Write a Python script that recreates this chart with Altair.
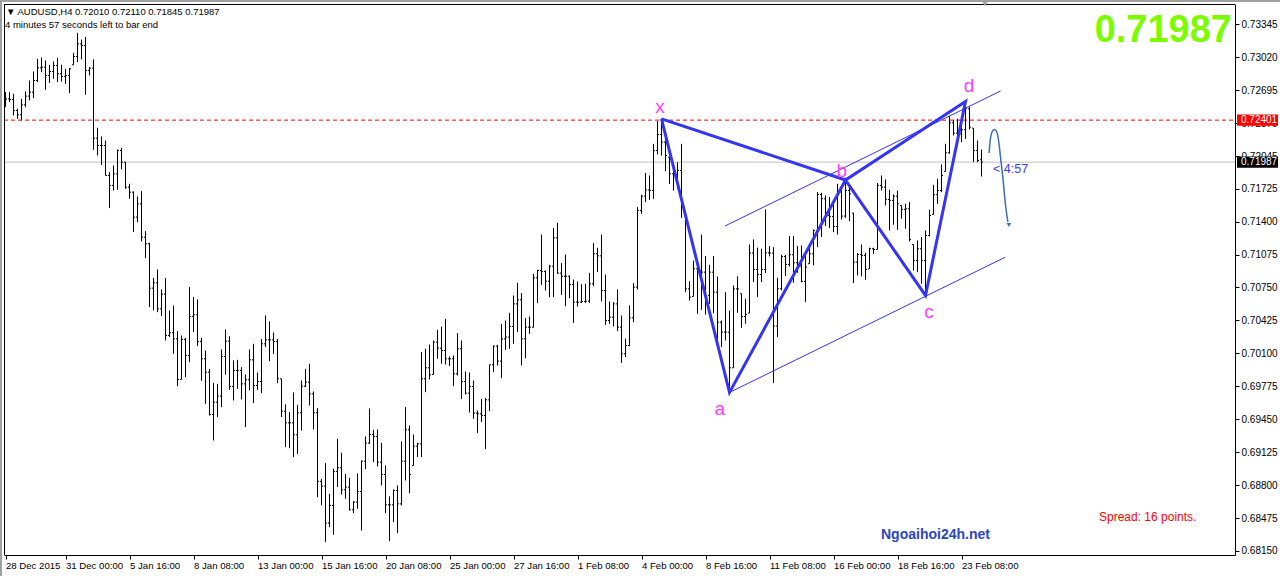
import altair as alt
import pandas as pd

# ---- AUDUSD H4 bars (oldest first) ----
open_ = [
    0.72650, 0.72611, 0.72605, 0.72496, 0.72454, 0.72552, 0.72638, 0.72677, 0.72792, 0.72917,
    0.72924, 0.72842, 0.72881, 0.72940, 0.72858, 0.72832, 0.72842, 0.72947, 0.73029, 0.73154,
    0.73138, 0.72891, 0.72914, 0.72223, 0.72151, 0.72151, 0.71855, 0.71756, 0.71871, 0.72102,
    0.71987, 0.71740, 0.71690, 0.71444, 0.71575, 0.71246, 0.71181, 0.70743, 0.70796, 0.70539,
    0.70684, 0.70276, 0.70303, 0.70243, 0.69842, 0.70237, 0.70079, 0.70464, 0.70480, 0.70217,
    0.70046, 0.69914, 0.69497, 0.69618, 0.69678, 0.70069, 0.70220, 0.69773, 0.69931, 0.69931,
    0.69799, 0.69839, 0.70036, 0.69783, 0.69822, 0.70194, 0.70233, 0.70233, 0.70217, 0.69849,
    0.69529, 0.69414, 0.69414, 0.69296, 0.69513, 0.69776, 0.69816, 0.69700, 0.69513, 0.68836,
    0.68790, 0.68425, 0.68599, 0.68935, 0.68971, 0.68754, 0.68780, 0.68556, 0.68632, 0.68737,
    0.69036, 0.69214, 0.69299, 0.69280, 0.69026, 0.68904, 0.68605, 0.68605, 0.68747, 0.68615,
    0.69036, 0.69345, 0.68993, 0.69184, 0.69207, 0.69849, 0.69957, 0.69891, 0.70210, 0.70151,
    0.70128, 0.70046, 0.70046, 0.69898, 0.70145, 0.69822, 0.69707, 0.69773, 0.69510, 0.69503,
    0.69487, 0.69641, 0.69987, 0.70171, 0.70023, 0.70243, 0.70260, 0.70365, 0.70588, 0.70628,
    0.70243, 0.70358, 0.70358, 0.70845, 0.70917, 0.70907, 0.70812, 0.70960, 0.71240, 0.70891,
    0.70861, 0.70861, 0.70779, 0.70605, 0.70605, 0.70611, 0.70615, 0.70786, 0.71082, 0.71062,
    0.70720, 0.70424, 0.70457, 0.70588, 0.70358, 0.70095, 0.70177, 0.70450, 0.70753, 0.71509,
    0.71651, 0.71713, 0.71707, 0.72101, 0.72259, 0.72184, 0.72036, 0.71871, 0.71865, 0.71904,
    0.71476, 0.70736, 0.70661, 0.70934, 0.70917, 0.70901, 0.70671, 0.70901, 0.70703, 0.70407,
    0.70309, 0.70309, 0.69957, 0.70736, 0.70688, 0.70464, 0.70497, 0.71089, 0.70928, 0.70878,
    0.70928, 0.71092, 0.71089, 0.70369, 0.70737, 0.71056, 0.70977, 0.71073, 0.70994, 0.70961,
    0.70810, 0.70984, 0.71082, 0.71313, 0.71668, 0.71625, 0.71461, 0.71451, 0.71352, 0.71691,
    0.71454, 0.71707, 0.71484, 0.71000, 0.71076, 0.71066, 0.70934, 0.71132, 0.71125, 0.71757,
    0.71740, 0.71619, 0.71609, 0.71651, 0.71559, 0.71520, 0.71526, 0.71174, 0.71017, 0.71132,
    0.71017, 0.71263, 0.71471, 0.71665, 0.71707, 0.71895, 0.72079, 0.72375, 0.72273, 0.72266,
    0.72306, 0.72513, 0.72322, 0.72102, 0.72010,
]
high = [
    0.72677, 0.72677, 0.72661, 0.72513, 0.72611, 0.72684, 0.72792, 0.72881, 0.73006, 0.73019,
    0.72990, 0.72947, 0.72980, 0.73016, 0.72947, 0.72907, 0.72914, 0.73065, 0.73263, 0.73197,
    0.73220, 0.72924, 0.73000, 0.72325, 0.72240, 0.72200, 0.71888, 0.71954, 0.72111, 0.72128,
    0.71987, 0.71773, 0.71697, 0.71648, 0.71700, 0.71306, 0.71191, 0.70845, 0.70927, 0.70730,
    0.70842, 0.70523, 0.70572, 0.70319, 0.70276, 0.70253, 0.70753, 0.70655, 0.70631, 0.70253,
    0.70128, 0.69947, 0.69809, 0.69799, 0.70138, 0.70335, 0.70270, 0.70030, 0.70036, 0.69964,
    0.69891, 0.70138, 0.70194, 0.69911, 0.70243, 0.70474, 0.70414, 0.70306, 0.70243, 0.69849,
    0.69596, 0.69520, 0.69714, 0.69592, 0.69832, 0.69947, 0.69997, 0.69724, 0.69559, 0.68862,
    0.69016, 0.68714, 0.68961, 0.69257, 0.69119, 0.68911, 0.68872, 0.68642, 0.68914, 0.69043,
    0.69280, 0.69556, 0.69345, 0.69349, 0.69217, 0.68993, 0.68688, 0.68756, 0.68796, 0.69230,
    0.69569, 0.69388, 0.69299, 0.69217, 0.70112, 0.70145, 0.70187, 0.70227, 0.70332, 0.70365,
    0.70440, 0.70069, 0.70079, 0.70299, 0.70227, 0.69921, 0.69911, 0.69832, 0.69536, 0.69651,
    0.69658, 0.69987, 0.70177, 0.70184, 0.70391, 0.70424, 0.70500, 0.70671, 0.70796, 0.70694,
    0.70447, 0.70463, 0.70884, 0.70924, 0.71272, 0.70917, 0.70973, 0.71338, 0.71388, 0.70990,
    0.71075, 0.70868, 0.70828, 0.70809, 0.70782, 0.70786, 0.70894, 0.71187, 0.71141, 0.71272,
    0.70878, 0.70611, 0.70605, 0.70730, 0.70473, 0.70243, 0.70572, 0.70792, 0.71542, 0.71664,
    0.71881, 0.71855, 0.72167, 0.72391, 0.72414, 0.72249, 0.72036, 0.71904, 0.71986, 0.72167,
    0.71476, 0.70812, 0.71016, 0.70967, 0.71272, 0.71059, 0.70973, 0.71059, 0.70858, 0.70424,
    0.70703, 0.70523, 0.70769, 0.70860, 0.70688, 0.70638, 0.71174, 0.71224, 0.71142, 0.71132,
    0.71520, 0.71158, 0.71148, 0.70846, 0.71073, 0.71073, 0.71257, 0.71257, 0.71158, 0.71165,
    0.71076, 0.71148, 0.71322, 0.71691, 0.71684, 0.71658, 0.71642, 0.71609, 0.71773, 0.71750,
    0.71810, 0.71740, 0.71484, 0.71092, 0.71174, 0.71092, 0.71142, 0.71142, 0.71780, 0.71855,
    0.71816, 0.71714, 0.71668, 0.71707, 0.71559, 0.71576, 0.71592, 0.71174, 0.71214, 0.71247,
    0.71313, 0.71517, 0.71763, 0.71822, 0.71964, 0.72168, 0.72441, 0.72405, 0.72414, 0.72398,
    0.72585, 0.72536, 0.72322, 0.72201, 0.72110,
]
low = [
    0.72529, 0.72579, 0.72447, 0.72414, 0.72398, 0.72529, 0.72595, 0.72618, 0.72776, 0.72875,
    0.72700, 0.72769, 0.72809, 0.72776, 0.72782, 0.72759, 0.72667, 0.72947, 0.72973, 0.73000,
    0.72651, 0.72842, 0.72108, 0.72052, 0.71960, 0.71855, 0.71533, 0.71707, 0.71714, 0.71914,
    0.71723, 0.71625, 0.71296, 0.71394, 0.71204, 0.71039, 0.70556, 0.70523, 0.70506, 0.70467,
    0.70227, 0.70260, 0.70095, 0.69776, 0.69842, 0.69865, 0.70013, 0.70309, 0.70171, 0.69829,
    0.69602, 0.69487, 0.69240, 0.69470, 0.69569, 0.69891, 0.69740, 0.69635, 0.69750, 0.69645,
    0.69372, 0.69734, 0.69609, 0.69740, 0.69707, 0.70161, 0.70023, 0.70095, 0.69806, 0.69470,
    0.69174, 0.69164, 0.69076, 0.69105, 0.69339, 0.69766, 0.69585, 0.69349, 0.68681, 0.68599,
    0.68237, 0.68385, 0.68310, 0.68780, 0.68707, 0.68665, 0.68550, 0.68523, 0.68566, 0.68352,
    0.68957, 0.69207, 0.69026, 0.68984, 0.68796, 0.68523, 0.68247, 0.68434, 0.68326, 0.68599,
    0.68846, 0.68720, 0.68993, 0.69076, 0.69076, 0.69717, 0.69842, 0.69891, 0.70046, 0.69997,
    0.69990, 0.69974, 0.69776, 0.69882, 0.69648, 0.69694, 0.69516, 0.69454, 0.69313, 0.69421,
    0.69155, 0.69529, 0.69914, 0.69980, 0.69855, 0.70134, 0.70144, 0.70194, 0.70309, 0.69980,
    0.70052, 0.70292, 0.70355, 0.70595, 0.70776, 0.70720, 0.70654, 0.70654, 0.70884, 0.70677,
    0.70565, 0.70644, 0.70401, 0.70562, 0.70598, 0.70598, 0.70598, 0.70763, 0.70901, 0.70611,
    0.70381, 0.70391, 0.70365, 0.70319, 0.70006, 0.70062, 0.70171, 0.70407, 0.70730, 0.71476,
    0.71592, 0.71615, 0.71624, 0.72062, 0.72052, 0.71897, 0.71772, 0.71707, 0.71723, 0.71437,
    0.70703, 0.70621, 0.70661, 0.70490, 0.70529, 0.70483, 0.70588, 0.70496, 0.70161, 0.70161,
    0.70227, 0.69714, 0.69957, 0.70500, 0.70352, 0.70392, 0.70497, 0.70803, 0.70655, 0.70803,
    0.70892, 0.71056, 0.69806, 0.70260, 0.70721, 0.70862, 0.70957, 0.70796, 0.70895, 0.70803,
    0.70605, 0.70984, 0.70967, 0.71148, 0.71247, 0.71355, 0.71336, 0.71296, 0.71273, 0.71421,
    0.71438, 0.71405, 0.70793, 0.70869, 0.70859, 0.70826, 0.70934, 0.71082, 0.71125, 0.71707,
    0.71559, 0.71313, 0.71369, 0.71319, 0.71428, 0.71329, 0.71204, 0.70918, 0.70901, 0.70786,
    0.70671, 0.71253, 0.71471, 0.71576, 0.71691, 0.71895, 0.72069, 0.72250, 0.72151, 0.72184,
    0.72217, 0.72309, 0.71987, 0.71987, 0.71845,
]
close = [
    0.72611, 0.72605, 0.72496, 0.72454, 0.72552, 0.72638, 0.72677, 0.72792, 0.72917, 0.72924,
    0.72842, 0.72881, 0.72940, 0.72858, 0.72832, 0.72842, 0.72907, 0.73029, 0.73154, 0.73138,
    0.72891, 0.72914, 0.72223, 0.72151, 0.72151, 0.71855, 0.71756, 0.71871, 0.72102, 0.71987,
    0.71740, 0.71690, 0.71444, 0.71575, 0.71246, 0.71181, 0.70743, 0.70796, 0.70539, 0.70684,
    0.70276, 0.70303, 0.70243, 0.69842, 0.70237, 0.70079, 0.70464, 0.70480, 0.70217, 0.70046,
    0.69914, 0.69497, 0.69618, 0.69678, 0.70069, 0.70220, 0.69773, 0.69931, 0.69931, 0.69799,
    0.69839, 0.70036, 0.69783, 0.69822, 0.70194, 0.70233, 0.70233, 0.70217, 0.69849, 0.69529,
    0.69414, 0.69414, 0.69296, 0.69513, 0.69776, 0.69816, 0.69700, 0.69513, 0.68836, 0.68790,
    0.68425, 0.68599, 0.68935, 0.68971, 0.68754, 0.68780, 0.68556, 0.68632, 0.68737, 0.69036,
    0.69214, 0.69299, 0.69280, 0.69026, 0.68904, 0.68605, 0.68605, 0.68747, 0.68615, 0.69036,
    0.69345, 0.68904, 0.69184, 0.69207, 0.69849, 0.69957, 0.69888, 0.70210, 0.70151, 0.70128,
    0.70046, 0.70046, 0.69898, 0.70145, 0.69822, 0.69707, 0.69773, 0.69510, 0.69503, 0.69487,
    0.69641, 0.69987, 0.70171, 0.70023, 0.70243, 0.70260, 0.70365, 0.70588, 0.70628, 0.70243,
    0.70358, 0.70358, 0.70845, 0.70917, 0.70907, 0.70812, 0.70960, 0.71240, 0.70891, 0.70861,
    0.70861, 0.70779, 0.70605, 0.70605, 0.70611, 0.70615, 0.70786, 0.71082, 0.71062, 0.70720,
    0.70424, 0.70457, 0.70588, 0.70358, 0.70095, 0.70177, 0.70450, 0.70753, 0.71509, 0.71651,
    0.71713, 0.71707, 0.72101, 0.72259, 0.72184, 0.72052, 0.71871, 0.71865, 0.71904, 0.71575,
    0.70736, 0.70654, 0.70934, 0.70917, 0.70901, 0.70671, 0.70901, 0.70703, 0.70407, 0.70309,
    0.70309, 0.69957, 0.70736, 0.70736, 0.70464, 0.70484, 0.71089, 0.70928, 0.70878, 0.70928,
    0.71092, 0.71089, 0.70369, 0.70737, 0.71056, 0.70977, 0.71073, 0.70994, 0.70961, 0.70810,
    0.70951, 0.71082, 0.71313, 0.71668, 0.71625, 0.71461, 0.71451, 0.71352, 0.71691, 0.71454,
    0.71707, 0.71674, 0.71000, 0.71076, 0.71066, 0.70928, 0.71132, 0.71125, 0.71757, 0.71740,
    0.71619, 0.71609, 0.71651, 0.71576, 0.71520, 0.71526, 0.71224, 0.71017, 0.71132, 0.71017,
    0.71263, 0.71461, 0.71665, 0.71707, 0.71855, 0.72079, 0.72375, 0.72273, 0.72266, 0.72306,
    0.72513, 0.72332, 0.72102, 0.72003, 0.71987,
]

# time axis labels (bar index -> broker time)
time_tick_bars = [0, 15, 31, 47, 63, 79, 95, 111, 127, 143, 159, 175, 191, 207, 223, 239]
time_tick_labels = [
    "28 Dec 2015", "31 Dec 00:00", "5 Jan 16:00", "8 Jan 08:00", "13 Jan 00:00",
    "15 Jan 16:00", "20 Jan 08:00", "25 Jan 00:00", "27 Jan 16:00", "1 Feb 08:00",
    "4 Feb 00:00", "8 Feb 16:00", "11 Feb 08:00", "16 Feb 00:00", "18 Feb 16:00",
    "23 Feb 08:00",
]
price_ticks = [
    0.73345, 0.73020, 0.72695, 0.72370, 0.72045, 0.71725, 0.71400, 0.71075, 0.70750,
    0.70425, 0.70100, 0.69775, 0.69450, 0.69125, 0.68800, 0.68475, 0.68150,
]

# XABCD pattern pivots
pivot_names = ["x", "a", "b", "c", "d"]
pivot_bars = [164, 181, 210, 230, 240]
pivot_prices = [0.72414, 0.69714, 0.71810, 0.70671, 0.72585]
pivot_label_bars = [163.6, 178.6, 209.1, 230.9, 240.9]
pivot_label_prices = [0.72531, 0.69551, 0.71899, 0.70508, 0.72738]
# drawing order X-a-b-c-d-b-X gives both triangles in one stroke
path_order = ["x", "a", "b", "c", "d", "b", "x"]

# channel lines
channel_group = ["upper", "upper", "lower", "lower"]
channel_bars = [179.9, 248.8, 181.0, 249.9]
channel_prices = [0.71357, 0.72689, 0.69714, 0.71048]

# projected move arrow
arrow_bars = [245.9, 246.25, 246.75, 247.25, 247.75, 248.25, 248.75, 249.4, 250.0, 250.6]
arrow_prices = [0.72077, 0.72225, 0.72294, 0.72309, 0.72289, 0.72205, 0.72038, 0.71811, 0.71564, 0.71396]
arrow_head = (250.85, 0.71366)

bid_price = 0.71987
level_price = 0.72401

W, H = 1231, 551
FONT = "Liberation Sans"
BLUE = "#3434f4"

xs = alt.Scale(domain=[-0.375, -0.375 + W / 4], nice=False, zero=False)
ys = alt.Scale(domain=[0.68110, 0.73547], nice=False, zero=False)

label_expr = "".join(
    f"datum.value == {b} ? '{t}' : " for b, t in zip(time_tick_bars, time_tick_labels)
) + "''"

x_axis = alt.Axis(
    values=time_tick_bars, labelExpr=label_expr, orient="bottom", title=None,
    labelAlign="left", labelBaseline="top", tickSize=4, labelPadding=1,
    labelOverlap=False, labelFlush=False, labelBound=False, grid=False,
    labelFont=FONT, labelFontSize=9.6, labelColor="black",
    tickColor="black", domainColor="black",
)
y_axis = alt.Axis(
    values=price_ticks, format=".5f", orient="right", title=None,
    tickSize=4, labelPadding=2, labelOverlap=False, labelFlush=False,
    labelBound=False, grid=False, labelFont=FONT, labelFontSize=10,
    labelColor="black", tickColor="black", domainColor="black",
)

bars = pd.DataFrame({"i": list(range(len(close))), "o": open_, "h": high, "l": low, "c": close})

# every positional layer carries the same scale and axis so the axes merge into one
def X(field):
    return alt.X(field, scale=xs, axis=x_axis)

def Y(field):
    return alt.Y(field, scale=ys, axis=y_axis)

# horizontal reference levels
bid_line = alt.Chart(pd.DataFrame({"p": [bid_price]})).mark_rule(
    color="#c0c0c0", strokeWidth=1).encode(y=Y("p:Q"), x=alt.value(0), x2=alt.value(W))
level_line = alt.Chart(pd.DataFrame({"p": [level_price]})).mark_rule(
    color="#ff0000", strokeWidth=1, strokeDash=[4, 3]).encode(
    y=Y("p:Q"), x=alt.value(0), x2=alt.value(W))

# OHLC bars
hl = alt.Chart(bars).mark_rule(color="black", strokeWidth=1).encode(
    x=X("i:Q"), y=Y("l:Q"), y2="h:Q")
open_tick = alt.Chart(bars).transform_calculate(i0="datum.i - 0.375").mark_rule(
    color="black", strokeWidth=1).encode(x=X("i0:Q"), x2="i:Q", y=Y("o:Q"))
close_tick = alt.Chart(bars).transform_calculate(i1="datum.i + 0.375").mark_rule(
    color="black", strokeWidth=1).encode(x=X("i:Q"), x2="i1:Q", y=Y("c:Q"))

# pattern
piv = dict(zip(pivot_names, zip(pivot_bars, pivot_prices)))
path_df = pd.DataFrame({
    "n": list(range(len(path_order))),
    "i": [piv[k][0] for k in path_order],
    "p": [piv[k][1] for k in path_order],
})
pattern = alt.Chart(path_df).mark_line(color=BLUE, strokeWidth=3, strokeJoin="miter").encode(
    x=X("i:Q"), y=Y("p:Q"), order="n:Q")

chan_df = pd.DataFrame({"g": channel_group, "i": channel_bars, "p": channel_prices})
channel = alt.Chart(chan_df).mark_line(color=BLUE, strokeWidth=1).encode(
    x=X("i:Q"), y=Y("p:Q"), detail="g:N")

plabels = pd.DataFrame({"t": pivot_names, "i": pivot_label_bars, "p": pivot_label_prices})
pattern_text = alt.Chart(plabels).mark_text(
    color="#ff3cff", font=FONT, fontSize=19, align="center", baseline="middle").encode(
    x=X("i:Q"), y=Y("p:Q"), text="t:N")

arrow_df = pd.DataFrame({"n": list(range(len(arrow_bars))), "i": arrow_bars, "p": arrow_prices})
arrow = alt.Chart(arrow_df).mark_line(color="#3b6fb6", strokeWidth=1.5, interpolate="monotone").encode(
    x=X("i:Q"), y=Y("p:Q"), order="n:Q")
head = alt.Chart(pd.DataFrame({"i": [arrow_head[0]], "p": [arrow_head[1]]})).mark_point(
    shape="triangle-down", filled=True, color="#3b6fb6", size=22, opacity=1).encode(
    x=X("i:Q"), y=Y("p:Q"))

timer = alt.Chart(pd.DataFrame({"t": ["< 4:57"], "i": [246.9], "p": [0.71919]})).mark_text(
    color="#3c3cff", font=FONT, fontSize=12.5, align="left", baseline="middle").encode(
    x=X("i:Q"), y=Y("p:Q"), text="t:N")

# price boxes on the scale
HALF = 5.7 / 10134
box_df = pd.DataFrame({
    "p": [level_price, bid_price],
    "t": [f"{level_price:.5f}", f"{bid_price:.5f}"],
    "bg": ["#ff0000", "#000000"],
})
boxes = alt.Chart(box_df).transform_calculate(
    top=f"datum.p + {HALF}", bot=f"datum.p - {HALF}").mark_rect().encode(
    x=alt.value(W + 2), x2=alt.value(W + 43),
    y=Y("top:Q"), y2="bot:Q",
    color=alt.Color("bg:N", scale=None))
box_text = alt.Chart(box_df).mark_text(
    color="white", font=FONT, fontSize=10, align="left", baseline="middle").encode(
    x=alt.value(W + 6), y=Y("p:Q"), text="t:N")

def pix_text(txt, px, py, **kw):
    return alt.Chart(pd.DataFrame({"t": [txt]})).mark_text(**kw).encode(
        x=alt.value(px - 4), y=alt.value(py - 4), text="t:N")

header = pix_text("\u25BC AUDUSD,H4  0.72010 0.72110 0.71845 0.71987", 6, 12,
                  font=FONT, fontSize=9.5, color="black", align="left", baseline="middle")
header2 = pix_text("4 minutes 57 seconds left to bar end", 5, 25,
                   font=FONT, fontSize=9.5, color="black", align="left", baseline="middle")
big_price = pix_text("0.71987", 1232, 42, font=FONT, fontSize=38,
                     fontWeight="bold", color="#7cfc00", align="right", baseline="alphabetic")
spread = pix_text("Spread: 16 points.", 1099, 517, font=FONT, fontSize=12,
                  color="#ff0000", align="left", baseline="middle")
site = pix_text("Ngoaihoi24h.net", 881, 535, font=FONT, fontSize=14, fontWeight="bold",
                color="#2a45c2", align="left", baseline="middle")

# chart frame (top, left) and window edge
frame = pd.DataFrame({"k": [0]})
top_edge = alt.Chart(frame).mark_rule(color="black", strokeWidth=1).encode(
    x=alt.value(0), x2=alt.value(W), y=alt.value(0.5))
left_edge = alt.Chart(frame).mark_rule(color="black", strokeWidth=1).encode(
    x=alt.value(0.5), y=alt.value(0), y2=alt.value(H))
win_top = alt.Chart(frame).mark_rule(color="#a0a0a0", strokeWidth=2).encode(
    x=alt.value(-4), x2=alt.value(W + 45), y=alt.value(-3))
win_left = alt.Chart(frame).mark_rule(color="#a0a0a0", strokeWidth=2).encode(
    x=alt.value(-3), y=alt.value(-4), y2=alt.value(H + 21))
shift_mark = alt.Chart(frame).mark_point(
    shape="triangle-down", filled=True, color="#a0a0a0", size=45, opacity=1).encode(
    x=alt.value(981), y=alt.value(-0.5))

chart = alt.layer(
    bid_line, level_line, hl, open_tick, close_tick,
    channel, pattern, pattern_text, arrow, head, timer,
    boxes, box_text, header, header2, big_price, spread, site,
    top_edge, left_edge, win_top, win_left, shift_mark,
).properties(
    width=W, height=H,
    padding={"left": 4, "top": 4, "right": 45, "bottom": 21},
    autosize=alt.AutoSizeParams(type="none"),
    background="white",
).configure_view(stroke=None)

chart.save("out.html", embed_options={"renderer": "svg", "actions": False})
